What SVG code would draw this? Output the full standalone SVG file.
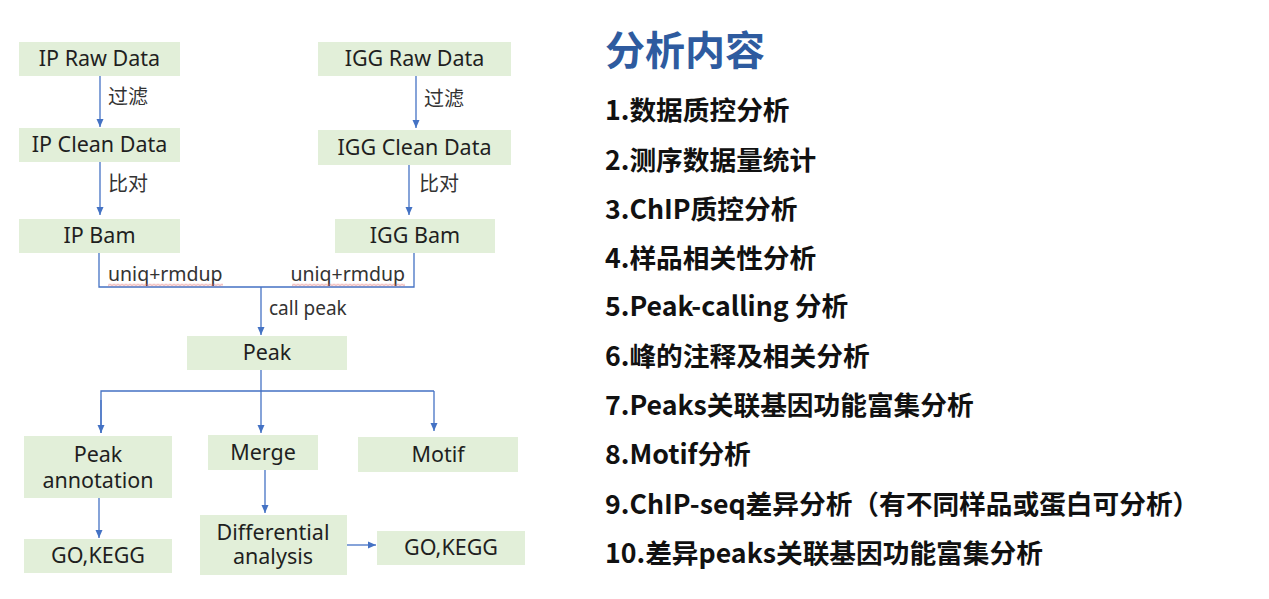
<svg xmlns="http://www.w3.org/2000/svg" width="1269" height="599" viewBox="0 0 1269 599">
<style>
.box{fill:#E2EFD9;}
.t{font-family:"Noto Sans","Noto Sans CJK SC",sans-serif;font-size:21.5px;fill:#1F1F1F;text-anchor:middle;}
.lbl{font-family:"Noto Sans CJK SC","Noto Sans",sans-serif;font-size:20px;fill:#333333;}
.lat{font-family:"Noto Sans","Noto Sans CJK SC",sans-serif;font-size:19.5px;fill:#333333;}
.c{fill:none;stroke:#4472C4;stroke-width:1.3;}
.title{font-family:"Noto Sans CJK SC",sans-serif;font-size:40px;font-weight:bold;fill:#2E5B9F;}
.item{font-family:"Noto Sans CJK SC",sans-serif;font-size:26.7px;font-weight:bold;fill:#111111;}
</style>
<defs>
<marker id="arr" markerUnits="userSpaceOnUse" markerWidth="8" markerHeight="8" refX="8" refY="4" orient="auto">
<path d="M0,0.5 L8,4 L0,7.5 z" fill="#4472C4"/>
</marker>
<pattern id="wavy" patternUnits="userSpaceOnUse" width="4" height="3" x="0" y="283.5">
<path d="M0,2.2 L2,0.6 L4,2.2" fill="none" stroke="#E06666" stroke-width="0.8"/>
</pattern>
</defs>
<rect width="1269" height="599" fill="#FFFFFF"/>

<g id="connectors">
<line class="c" x1="100" y1="76" x2="100" y2="127" marker-end="url(#arr)"/>
<line class="c" x1="416" y1="76" x2="416" y2="128" marker-end="url(#arr)"/>
<line class="c" x1="100" y1="162" x2="100" y2="215" marker-end="url(#arr)"/>
<line class="c" x1="409" y1="165" x2="409" y2="215" marker-end="url(#arr)"/>
<path class="c" d="M99,253 V287 H414 V253"/>
<line class="c" x1="261" y1="287" x2="261" y2="335" marker-end="url(#arr)"/>
<line class="c" x1="261" y1="370" x2="261" y2="433" marker-end="url(#arr)"/>
<path class="c" d="M101,433 V391 H434"/>
<line class="c" x1="101" y1="400" x2="101" y2="433" marker-end="url(#arr)"/>
<line class="c" x1="434" y1="391" x2="434" y2="431" marker-end="url(#arr)"/>
<line class="c" x1="99" y1="498" x2="99" y2="538" marker-end="url(#arr)"/>
<line class="c" x1="265" y1="470" x2="265" y2="513" marker-end="url(#arr)"/>
<line class="c" x1="347" y1="545" x2="376" y2="545" marker-end="url(#arr)"/>
<text class="lbl" x="108" y="104">过滤</text>
<text class="lbl" x="424" y="106">过滤</text>
<text class="lbl" x="108" y="191">比对</text>
<text class="lbl" x="419" y="191">比对</text>
<text class="lat" x="108" y="281">uniq+rmdup</text>
<text class="lat" x="405" y="281" text-anchor="end">uniq+rmdup</text>
<rect x="108" y="283.5" width="115" height="3" fill="url(#wavy)"/>
<rect x="292" y="283.5" width="113" height="3" fill="url(#wavy)"/>
<text class="lat" x="269" y="315" style="font-size:19px">call peak</text>
</g>

<g id="ip-raw"><rect class="box" x="19" y="42" width="161" height="34"/><text class="t" x="99.5" y="66">IP Raw Data</text></g>
<g id="igg-raw"><rect class="box" x="318" y="42" width="193" height="34"/><text class="t" x="414.5" y="66">IGG Raw Data</text></g>
<g id="ip-clean"><rect class="box" x="19" y="128" width="161" height="34"/><text class="t" x="99.5" y="152">IP Clean Data</text></g>
<g id="igg-clean"><rect class="box" x="318" y="130" width="193" height="35"/><text class="t" x="414.5" y="155">IGG Clean Data</text></g>
<g id="ip-bam"><rect class="box" x="19" y="219" width="161" height="34"/><text class="t" x="99.5" y="243">IP Bam</text></g>
<g id="igg-bam"><rect class="box" x="335" y="219" width="160" height="34"/><text class="t" x="415" y="243">IGG Bam</text></g>
<g id="peak"><rect class="box" x="187" y="336" width="160" height="34"/><text class="t" x="267" y="360">Peak</text></g>
<g id="peak-annotation"><rect class="box" x="24" y="436" width="148" height="62"/><text class="t" x="98" y="462">Peak<tspan x="98" dy="26">annotation</tspan></text></g>
<g id="merge"><rect class="box" x="208" y="435" width="110" height="35"/><text class="t" x="263" y="460">Merge</text></g>
<g id="motif"><rect class="box" x="358" y="437" width="160" height="35"/><text class="t" x="438" y="462">Motif</text></g>
<g id="go-kegg-1"><rect class="box" x="24" y="539" width="148" height="34"/><text class="t" x="98" y="563">GO,KEGG</text></g>
<g id="differential"><rect class="box" x="200" y="515" width="147" height="60"/><text class="t" x="273" y="540">Differential<tspan x="273" dy="24">analysis</tspan></text></g>
<g id="go-kegg-2"><rect class="box" x="377" y="531" width="148" height="34"/><text class="t" x="451" y="555">GO,KEGG</text></g>

<g id="content">
<text class="title" x="605" y="65">分析内容</text>
<text class="item" x="605" y="120">1.数据质控分析</text>
<text class="item" x="605" y="170">2.测序数据量统计</text>
<text class="item" x="605" y="219">3.ChIP质控分析</text>
<text class="item" x="605" y="268">4.样品相关性分析</text>
<text class="item" x="605" y="316">5.Peak-calling 分析</text>
<text class="item" x="605" y="366">6.峰的注释及相关分析</text>
<text class="item" x="605" y="415">7.Peaks关联基因功能富集分析</text>
<text class="item" x="605" y="464">8.Motif分析</text>
<text class="item" x="605" y="514">9.ChIP-seq差异分析（有不同样品或蛋白可分析）</text>
<text class="item" x="605" y="563">10.差异peaks关联基因功能富集分析</text>
</g>
</svg>
